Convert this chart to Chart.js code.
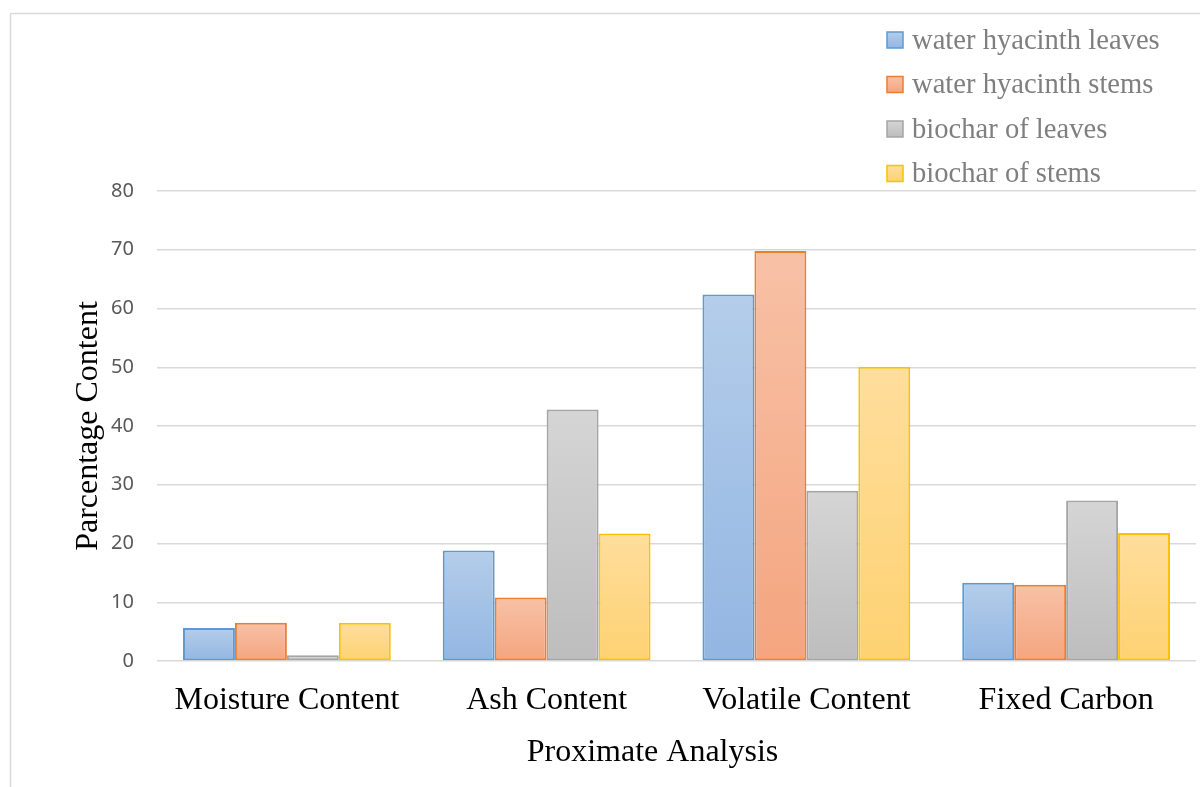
<!DOCTYPE html>
<html>
<head>
<meta charset="utf-8">
<script src="https://cdn.jsdelivr.net/npm/chart.js@4.4.1/dist/chart.umd.min.js"></script>
<style>
  html, body { margin: 0; padding: 0; background: #ffffff; }
  #wrap { position: relative; width: 1200px; height: 787px; overflow: hidden; }
  canvas { display: block; }
</style>
</head>
<body>
<div id="wrap"><canvas id="chart" width="1200" height="787"></canvas></div>
<script>
// Proximate analysis of water hyacinth and its biochar (%)
const categories = ['Moisture Content', 'Ash Content', 'Volatile Content', 'Fixed Carbon'];
const seriesNames = ['water hyacinth leaves', 'water hyacinth stems', 'biochar of leaves', 'biochar of stems'];
const leaves = [5.6, 18.8, 62.4, 13.3];
const stems = [6.5, 10.8, 69.8, 13.0];
const biocharLeaves = [1.0, 42.8, 29.0, 27.3];
const biocharStems = [6.5, 21.7, 50.1, 21.8];
const yTicks = [0, 10, 20, 30, 40, 50, 60, 70, 80];

// Per-series styling: border, top and bottom of the fill gradient
const palette = [
  { border: '#5b9bd5', top: '#b4cdea', bottom: '#93b6e2' },
  { border: '#ed7d31', top: '#f8c1a6', bottom: '#f4a57f' },
  { border: '#a5a5a5', top: '#d5d5d5', bottom: '#bdbdbd' },
  { border: '#ffc000', top: '#ffdd9c', bottom: '#fed272' }
];
const seriesValues = [leaves, stems, biocharLeaves, biocharStems];

function barFill(p) {
  return (ctx) => {
    const chart = ctx.chart;
    if (!chart.chartArea || ctx.type !== 'data' || !chart.scales.y) return p.top;
    const y = chart.scales.y;
    const top = y.getPixelForValue(ctx.raw);
    const base = y.getPixelForValue(0);
    if (!isFinite(top) || !isFinite(base) || base - top < 1) return p.top;
    const g = chart.ctx.createLinearGradient(0, top, 0, base);
    g.addColorStop(0, p.top);
    g.addColorStop(1, p.bottom);
    return g;
  };
}

const datasets = seriesNames.map((name, i) => ({
  label: name,
  data: seriesValues[i],
  backgroundColor: barFill(palette[i]),
  borderColor: palette[i].border,
  borderWidth: 2,
  borderSkipped: false,
  categoryPercentage: 0.8,
  barPercentage: 1.0
}));

const SERIF = '"Liberation Serif", "Times New Roman", serif';

// Outer frame and stacked legend in the upper-right corner
const decorations = {
  id: 'decorations',
  beforeDraw(chart) {
    const c = chart.ctx;
    c.save();
    c.strokeStyle = '#d9d9d9';
    c.lineWidth = 1.5;
    c.strokeRect(10.5, 13.5, 1400, 1000);
    c.restore();
  },
  afterDraw(chart) {
    const c = chart.ctx;
    c.save();
    c.font = '28.6px ' + SERIF;
    c.textBaseline = 'middle';
    c.textAlign = 'left';
    chart.data.datasets.forEach((ds, i) => {
      const p = palette[i];
      const cy = 40 + i * 44.5;
      const bx = 887, by = cy - 8, s = 16;
      const g = c.createLinearGradient(0, by, 0, by + s);
      g.addColorStop(0, p.top);
      g.addColorStop(1, p.bottom);
      c.fillStyle = g;
      c.fillRect(bx, by, s, s);
      c.strokeStyle = p.border;
      c.lineWidth = 1.5;
      c.strokeRect(bx, by, s, s);
      c.fillStyle = '#7f7f7f';
      c.fillText(ds.label, 912, cy + 1);
    });
    c.restore();
  }
};

new Chart(document.getElementById('chart'), {
  type: 'bar',
  data: { labels: categories, datasets },
  plugins: [decorations],
  options: {
    responsive: false,
    animation: false,
    devicePixelRatio: 1,
    layout: { padding: { top: 191, right: 4, left: 0, bottom: 0 } },
    plugins: {
      legend: { display: false },
      tooltip: { enabled: false }
    },
    scales: {
      x: {
        grid: { display: false },
        border: { display: false },
        ticks: {
          color: '#000000',
          font: { family: SERIF, size: 32 },
          padding: 12,
          maxRotation: 0
        },
        title: {
          display: true,
          text: 'Proximate Analysis      ',
          color: '#000000',
          font: { family: SERIF, size: 32 },
          padding: { top: 0, bottom: 15 }
        },
        afterFit(scale) { scale.height = 126; }
      },
      y: {
        min: 0,
        max: 80,
        afterBuildTicks(scale) { scale.ticks = yTicks.map(v => ({ value: v })); },
        grid: { color: '#d9d9d9', lineWidth: 1.5, drawTicks: false },
        border: { display: false },
        ticks: {
          color: '#595959',
          font: { family: '"Noto Sans", "Open Sans", sans-serif', size: 20 },
          padding: 23
        },
        title: {
          display: true,
          text: 'Parcentage Content',
          color: '#000000',
          font: { family: SERIF, size: 32 },
          padding: { top: 69, bottom: 0 }
        },
        afterFit(scale) { scale.width = 157; }
      }
    }
  }
});
</script>
</body>
</html>
